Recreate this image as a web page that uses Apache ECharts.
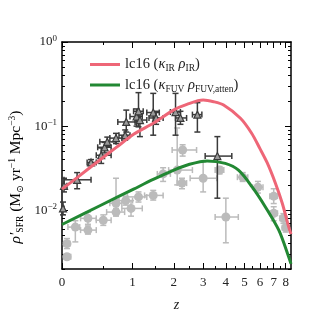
<!DOCTYPE html>
<html>
<head>
<meta charset="utf-8">
<script src="https://cdn.jsdelivr.net/npm/echarts@6/dist/echarts.min.js"></script>
<style>
html, body { margin: 0; padding: 0; background: #fff; }
#chart { width: 332px; height: 332px; }
</style>
</head>
<body>
<div id="chart"></div>
<script>
// model curves (redshift, SFR density)
const irZ = [0, 0.16, 0.45, 0.71, 1.02, 1.46, 1.99, 2.41, 3.0, 3.43, 3.89, 4.77, 5.45, 5.98, 6.5, 7.12, 7.7, 8.27, 8.48]
const irRho = [0.0178, 0.0244, 0.0396, 0.0562, 0.0798, 0.109, 0.155, 0.181, 0.204, 0.195, 0.178, 0.124, 0.0818, 0.0543, 0.0367, 0.0212, 0.0121, 0.00633, 0.0052]
const fuvZ = [0, 0.45, 1.02, 1.45, 2.0, 2.5, 3.16, 3.97, 4.66, 5.47, 6.36, 7.41, 8.27, 8.48]
const fuvRho = [0.00676, 0.0113, 0.0178, 0.0232, 0.0300, 0.0352, 0.0386, 0.036, 0.0299, 0.0189, 0.011, 0.00578, 0.00278, 0.0023]

// observations: [z, rho, zLow, zHigh, rhoLow, rhoHigh]
const irPoints = [
	[0.01, 0.0105, 0.0, 0.02, 0.0088, 0.0125],
	[0.02, 0.0195, 0.0, 0.05, 0.0165, 0.024],
	[0.16, 0.023, 0.02, 0.33, 0.018, 0.028],
	[0.33, 0.037, 0.28, 0.40, 0.034, 0.040],
	[0.47, 0.045, 0.40, 0.62, 0.036, 0.055],
	[0.52, 0.056, 0.42, 0.62, 0.048, 0.064],
	[0.56, 0.065, 0.45, 0.70, 0.057, 0.074],
	[0.70, 0.072, 0.60, 0.80, 0.062, 0.082],
	[0.86, 0.078, 0.75, 0.95, 0.068, 0.090],
	[0.88, 0.112, 0.73, 1.05, 0.085, 0.155],
	[1.08, 0.130, 0.95, 1.20, 0.100, 0.160],
	[1.12, 0.150, 1.02, 1.22, 0.098, 0.250],
	[1.15, 0.118, 1.05, 1.30, 0.075, 0.140],
	[1.45, 0.145, 1.30, 1.60, 0.078, 0.245],
	[1.52, 0.125, 1.35, 1.70, 0.105, 0.150],
	[2.05, 0.147, 1.90, 2.20, 0.078, 0.245],
	[2.20, 0.125, 2.05, 2.40, 0.105, 0.150],
	[2.78, 0.137, 2.60, 2.95, 0.085, 0.190],
	[3.60, 0.044, 3.08, 4.30, 0.0139, 0.075]
]
const uvPoints = [
	[0.05, 0.0040, 0.02, 0.08, 0.0035, 0.0046],
	[0.05, 0.0028, 0.02, 0.09, 0.0026, 0.0030],
	[0.14, 0.0063, 0.06, 0.19, 0.0042, 0.0075],
	[0.29, 0.0080, 0.20, 0.40, 0.0068, 0.0095],
	[0.29, 0.0058, 0.20, 0.40, 0.0052, 0.0065],
	[0.50, 0.0076, 0.40, 0.62, 0.0066, 0.0088],
	[0.70, 0.0121, 0.60, 0.80, 0.0095, 0.024],
	[0.70, 0.0095, 0.55, 0.85, 0.0085, 0.0105],
	[0.87, 0.0130, 0.75, 1.00, 0.0115, 0.0147],
	[0.97, 0.0105, 0.80, 1.20, 0.0085, 0.0130],
	[1.12, 0.0144, 0.90, 1.30, 0.0125, 0.0165],
	[1.45, 0.0150, 1.25, 1.70, 0.0132, 0.0172],
	[1.70, 0.0270, 1.55, 1.90, 0.022, 0.032],
	[2.10, 0.0300, 1.85, 2.60, 0.020, 0.095],
	[2.25, 0.0210, 2.10, 2.40, 0.018, 0.024],
	[2.27, 0.0520, 1.95, 2.75, 0.044, 0.060],
	[3.00, 0.0240, 2.52, 3.57, 0.0165, 0.0376],
	[3.70, 0.0300, 3.50, 3.90, 0.027, 0.033],
	[4.00, 0.0083, 3.50, 4.65, 0.0041, 0.0139],
	[4.90, 0.0247, 4.60, 5.20, 0.022, 0.028],
	[5.85, 0.0188, 5.50, 6.20, 0.016, 0.022],
	[7.00, 0.0147, 6.70, 7.30, 0.012, 0.018],
	[7.00, 0.0092, 6.70, 7.30, 0.0075, 0.011],
	[7.80, 0.0080, 7.50, 8.10, 0.0070, 0.0091],
	[8.00, 0.0062, 7.70, 8.30, 0.0055, 0.0070]
]

// ticks
const zMajor = [0, 1, 2, 3, 4, 5, 6, 7, 8]
const zMinor = [0.5, 1.5, 2.5, 3.5, 4.5, 5.5, 6.5, 7.5]
const rhoMajor = [0.01, 0.1, 1]
const rhoMinor = [0.002, 0.003, 0.004, 0.005, 0.006, 0.007, 0.008, 0.009,
	0.02, 0.03, 0.04, 0.05, 0.06, 0.07, 0.08, 0.09,
	0.2, 0.3, 0.4, 0.5, 0.6, 0.7, 0.8, 0.9]

const zMax = 8.48
const rhoMin = 0.002
const rhoMax = 1

const lz = z => Math.log10(1 + z)
const lr = r => Math.log10(r)
const toLog = p => [lz(p[0]), lr(p[1]), lz(p[2]), lz(p[3]), lr(p[4]), lr(p[5])]

const FONT = '"Liberation Serif", "DejaVu Serif", serif'
const RED = '#ee6677'
const GREEN = '#228833'
const DARK = '#3a3a3a'
const GREY = '#bbbbbb'

function errorBars(color, cap) {
	return function (params, api) {
		let x = api.value(0), y = api.value(1)
		let c = api.coord([x, y])
		let l = api.coord([api.value(2), y])
		let r = api.coord([api.value(3), y])
		let b = api.coord([x, api.value(4)])
		let t = api.coord([x, api.value(5)])
		let style = { stroke: color, lineWidth: 1.5 }
		let seg = (x1, y1, x2, y2) => ({ type: 'line', shape: { x1: x1, y1: y1, x2: x2, y2: y2 }, style: style })
		return {
			type: 'group',
			children: [
				seg(l[0], c[1], r[0], c[1]),
				seg(c[0], b[1], c[0], t[1]),
				seg(l[0], c[1] - cap, l[0], c[1] + cap),
				seg(r[0], c[1] - cap, r[0], c[1] + cap),
				seg(c[0] - cap, b[1], c[0] + cap, b[1]),
				seg(c[0] - cap, t[1], c[0] + cap, t[1])
			]
		}
	}
}

function xAxisDef(position, values, length, showLine, showLabel) {
	return {
		type: 'value', position: position, min: 0, max: lz(zMax),
		splitLine: { show: false },
		axisLine: { show: showLine, onZero: false, lineStyle: { color: '#000', width: 1.5 } },
		axisTick: { inside: true, length: length, customValues: values.map(lz), lineStyle: { color: '#000', width: 1 } },
		axisLabel: {
			show: showLabel, customValues: values.map(lz), margin: 7,
			fontFamily: FONT, fontSize: 13, color: '#222',
			formatter: v => String(Math.round(Math.pow(10, v) - 1))
		}
	}
}

function yAxisDef(position, values, length, showLine, showLabel) {
	return {
		type: 'value', position: position, min: lr(rhoMin), max: lr(rhoMax),
		splitLine: { show: false },
		axisLine: { show: showLine, onZero: false, lineStyle: { color: '#000', width: 1.5 } },
		axisTick: { inside: true, length: length, customValues: values.map(lr), lineStyle: { color: '#000', width: 1 } },
		axisLabel: {
			show: showLabel, customValues: values.map(lr), margin: 5,
			fontFamily: FONT, color: '#222',
			formatter: function (v) {
				let e = Math.round(v)
				return '{b|10}{s|' + (e === 0 ? '0' : '\u2212' + (-e)) + '}'
			},
			rich: {
				b: { fontFamily: FONT, fontSize: 13, color: '#222', lineHeight: 16 },
				s: { fontFamily: FONT, fontSize: 9, color: '#222', verticalAlign: 'top', lineHeight: 10 }
			}
		}
	}
}

let xAxes = [
	xAxisDef('bottom', zMajor, 6, true, true),
	xAxisDef('bottom', zMinor, 3, false, false),
	xAxisDef('top', zMajor, 6, true, false),
	xAxisDef('top', zMinor, 3, false, false)
]
xAxes[0].name = 'z'
xAxes[0].nameLocation = 'middle'
xAxes[0].nameGap = 29
xAxes[0].nameTextStyle = { fontFamily: FONT, fontStyle: 'italic', fontSize: 14, color: '#222' }

let yAxes = [
	yAxisDef('left', rhoMajor, 6, true, true),
	yAxisDef('left', rhoMinor, 3, false, false),
	yAxisDef('right', rhoMajor, 6, true, false),
	yAxisDef('right', rhoMinor, 3, false, false)
]

function richText(size) {
	return {
		t: { fontFamily: FONT, fontSize: size, color: '#222', lineHeight: 18 },
		i: { fontFamily: FONT, fontSize: size, fontStyle: 'italic', color: '#222', lineHeight: 18 },
		sub: { fontFamily: FONT, fontSize: 9.5, color: '#222', verticalAlign: 'bottom', lineHeight: 10 },
		sup: { fontFamily: FONT, fontSize: 9.5, color: '#222', verticalAlign: 'top', lineHeight: 10 }
	}
}

const legendText = {
	ir: '{t|lc16 (}{i|\u03ba}{sub|IR}{t| }{i|\u03c1}{sub|IR}{t|)}',
	fuv: '{t|lc16 (}{i|\u03ba}{sub|FUV}{t| }{i|\u03c1}{sub|FUV,atten}{t|)}'
}

let chart = echarts.init(document.getElementById('chart'))

let option = {
	animation: false,
	backgroundColor: '#fff',
	grid: { left: 62, right: 41, top: 42, bottom: 63, containLabel: false },
	xAxis: xAxes,
	yAxis: yAxes,
	legend: {
		left: 85, top: 52, orient: 'vertical',
		icon: 'rect', itemWidth: 30, itemHeight: 3, itemGap: 4,
		data: ['ir', 'fuv'],
		formatter: name => legendText[name],
		textStyle: { fontFamily: FONT, fontSize: 14, color: '#222', rich: richText(14.5) }
	},
	graphic: [{
		type: 'text', x: 16, y: 177, rotation: Math.PI / 2,
		style: {
			text: '{i|\u03c1\u2032}{sub|SFR}{t| (M}{sub|\u2299}{t| yr}{sup|\u22121}{t| Mpc}{sup|\u22123}{t|)}',
			rich: richText(15.5), align: 'center', verticalAlign: 'middle'
		}
	}],
	series: [
		{
			type: 'custom', name: 'uvErr', z: 1,
			renderItem: errorBars(GREY, 3),
			encode: { x: [0, 2, 3], y: [1, 4, 5] },
			data: uvPoints.map(toLog)
		},
		{
			type: 'scatter', name: 'uvPts', z: 2,
			symbol: 'circle', symbolSize: 9,
			itemStyle: { color: GREY, opacity: 1 },
			data: uvPoints.map(p => [lz(p[0]), lr(p[1])])
		},
		{
			type: 'custom', name: 'irErr', z: 3,
			renderItem: errorBars(DARK, 3),
			encode: { x: [0, 2, 3], y: [1, 4, 5] },
			data: irPoints.map(toLog)
		},
		{
			type: 'scatter', name: 'irPts', z: 4,
			symbol: 'triangle', symbolSize: 7,
			itemStyle: { color: '#9a9a9a', borderColor: DARK, borderWidth: 1.2, opacity: 1 },
			data: irPoints.map(p => [lz(p[0]), lr(p[1])])
		},
		{
			type: 'line', name: 'ir', z: 5, smooth: 0.3, symbol: 'none',
			lineStyle: { color: RED, width: 3 },
			itemStyle: { color: RED },
			data: irZ.map((z, i) => [lz(z), lr(irRho[i])])
		},
		{
			type: 'line', name: 'fuv', z: 5, smooth: 0.3, symbol: 'none',
			lineStyle: { color: GREEN, width: 3 },
			itemStyle: { color: GREEN },
			data: fuvZ.map((z, i) => [lz(z), lr(fuvRho[i])])
		}
	]
}
chart.setOption(option)
</script>
</body>
</html>
